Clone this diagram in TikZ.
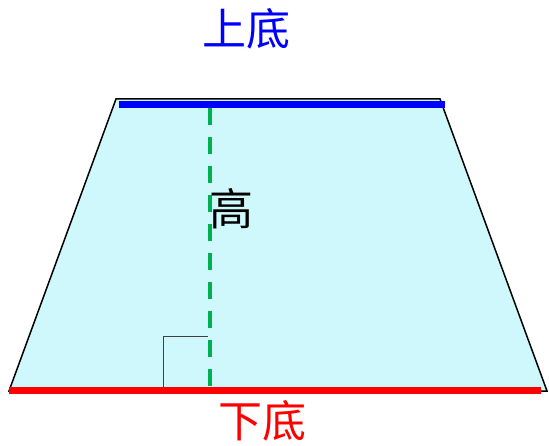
\documentclass[tikz,border=0pt]{standalone}
\usepackage{fontspec}
\newfontfamily\cjk{Noto Sans CJK SC}
\definecolor{fillc}{RGB}{206,248,252}
\definecolor{bluec}{RGB}{0,0,255}
\definecolor{redc}{RGB}{255,0,0}
\definecolor{greenc}{RGB}{0,176,80}
\tikzset{
  lbl/.style={font=\cjk\fontsize{44}{46}\selectfont, inner sep=0pt},
  basebar/.style={line width=7pt},
}
\begin{document}
\begin{tikzpicture}[x=1pt,y=-1pt]
\useasboundingbox (0,0) rectangle (549,446);
\coordinate (tl) at (116,99);
\coordinate (tr) at (440,99);
\coordinate (br) at (547,391);
\coordinate (bl) at (9,391);
\draw[fill=fillc, line width=1.5pt] (tl) -- (tr) -- (br) -- (bl) -- cycle;
\coordinate (b1) at (119,105);
\coordinate (b2) at (445,105);
\draw[basebar, draw=bluec] (b1) -- (b2);
\coordinate (r1) at (9,390.5);
\coordinate (r2) at (541,390.5);
\draw[basebar, draw=redc] (r1) -- (r2);
\coordinate (h1) at (209.5,108);
\coordinate (h2) at (209.5,387);
\draw[greenc, line width=4pt, dash pattern=on 17pt off 12pt] (h1) -- (h2);
\coordinate (q1) at (163.5,387);
\coordinate (q2) at (163.5,336.5);
\coordinate (q3) at (208,336.5);
\draw[black!75, line width=1.2pt] (q1) -- (q2) -- (q3);
\node[lbl, text=bluec] (top) at (246,29) {上底};
\node[lbl, text=black] (hgt) at (231,209) {高};
\node[lbl, text=redc] (bot) at (262,421) {下底};
\end{tikzpicture}
\end{document}
